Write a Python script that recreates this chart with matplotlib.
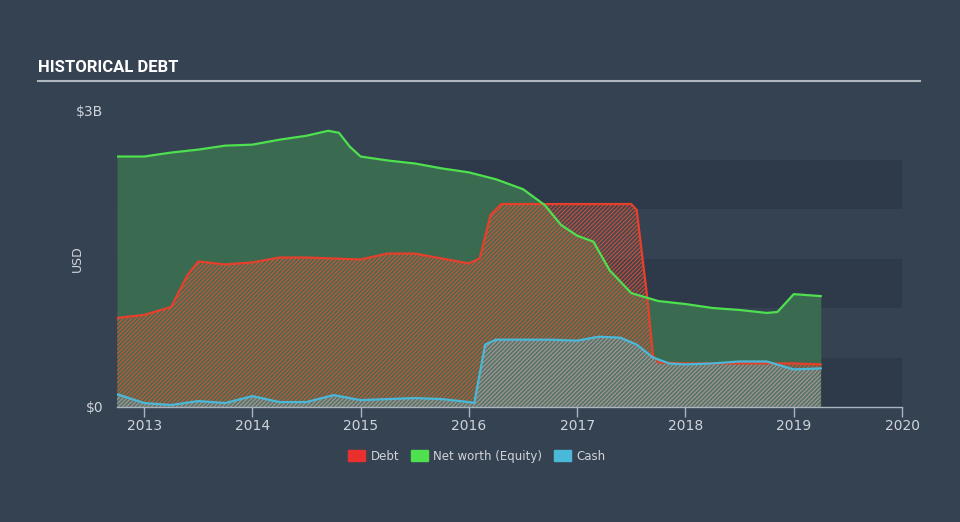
import matplotlib
matplotlib.use("Agg")
import matplotlib.pyplot as plt
from matplotlib.patches import Patch

# values in $B
equity_x = [2012.75, 2013.0, 2013.25, 2013.5, 2013.75, 2014.0, 2014.25, 2014.5, 2014.7, 2014.8,
            2014.9, 2015.0, 2015.25, 2015.5, 2015.75, 2016.0, 2016.25, 2016.5, 2016.7, 2016.85,
            2017.0, 2017.15, 2017.3, 2017.5, 2017.75, 2018.0, 2018.25, 2018.5, 2018.75, 2018.85,
            2019.0, 2019.25]
equity_y = [2.53, 2.53, 2.57, 2.60, 2.64, 2.65, 2.70, 2.74, 2.79, 2.77,
            2.63, 2.53, 2.49, 2.46, 2.41, 2.37, 2.30, 2.20, 2.04, 1.84,
            1.73, 1.67, 1.38, 1.15, 1.07, 1.04, 1.00, 0.98, 0.95, 0.96,
            1.14, 1.12]

debt_x = [2012.75, 2013.0, 2013.25, 2013.4, 2013.5, 2013.75, 2014.0, 2014.25, 2014.5, 2014.75,
          2015.0, 2015.25, 2015.5, 2015.75, 2016.0, 2016.1, 2016.2, 2016.3, 2016.5, 2017.0,
          2017.5, 2017.55, 2017.65, 2017.7, 2017.75, 2018.0, 2019.0, 2019.25]
debt_y = [0.90, 0.93, 1.01, 1.33, 1.47, 1.44, 1.46, 1.51, 1.51, 1.50,
          1.49, 1.55, 1.55, 1.50, 1.45, 1.50, 1.94, 2.05, 2.05, 2.05,
          2.05, 1.99, 1.08, 0.52, 0.45, 0.44, 0.44, 0.43]

cash_x = [2012.75, 2013.0, 2013.25, 2013.5, 2013.75, 2014.0, 2014.25, 2014.5, 2014.75, 2015.0,
          2015.25, 2015.5, 2015.75, 2016.0, 2016.05, 2016.15, 2016.25, 2016.5, 2016.75, 2017.0,
          2017.2, 2017.4, 2017.55, 2017.7, 2017.85, 2018.0, 2018.25, 2018.5, 2018.75, 2019.0,
          2019.25]
cash_y = [0.13, 0.04, 0.02, 0.06, 0.04, 0.11, 0.05, 0.05, 0.12, 0.07,
          0.08, 0.09, 0.08, 0.05, 0.04, 0.63, 0.68, 0.68, 0.68, 0.67,
          0.71, 0.70, 0.63, 0.50, 0.44, 0.43, 0.44, 0.46, 0.46, 0.38,
          0.39]

year_ticks = [2013, 2014, 2015, 2016, 2017, 2018, 2019, 2020]

BG = "#344252"
BAND = "#2e3a4a"
GREEN = "#4fe04f"
RED = "#e8312f"
BLUE = "#4ab8d8"
TEXT = "#d0d4da"

plt.rcParams["hatch.linewidth"] = 0.8

fig = plt.figure(figsize=(9.6, 5.22), dpi=100, facecolor=BG)
ax = fig.add_axes([117 / 960, 1 - 407 / 522, 785 / 960, 297 / 522], facecolor=BG)

for lo in (0.0, 1.0, 2.0):
    ax.axhspan(lo, lo + 0.5, color=BAND, lw=0, zorder=0)

# equity
ax.fill_between(equity_x, 0, equity_y, color="#3a6b50", lw=0, zorder=1)
# debt, hatched
ax.fill_between(debt_x, 0, debt_y, facecolor=(0.60, 0.38, 0.28, 0.2),
                edgecolor=(0.90, 0.33, 0.22, 0.8), hatch="/" * 8, lw=0, zorder=2)
# cash, hatched
ax.fill_between(cash_x, 0, cash_y, facecolor=(0.45, 0.62, 0.68, 0.25),
                edgecolor=(0.55, 0.72, 0.80, 0.6), hatch="/" * 8, lw=0, zorder=3)

ax.plot(debt_x, debt_y, color="#e6402c", lw=1.6, zorder=4)
ax.plot(equity_x, equity_y, color=GREEN, lw=1.6, zorder=5)
ax.plot(cash_x, cash_y, color=BLUE, lw=1.6, zorder=6)

ax.set_xlim(2012.75, 2020)
ax.set_ylim(0, 3)
ax.set_xticks(year_ticks)
ax.set_xticklabels([str(y) for y in year_ticks])
ax.set_yticks([0, 3])
ax.set_yticklabels(["$0", "$3B"])
ax.tick_params(axis="x", colors="#aab4c0", labelcolor=TEXT, labelsize=10, length=7, width=1, pad=2)
ax.tick_params(axis="y", length=0, labelcolor=TEXT, labelsize=10, pad=10)
for side in ("top", "right", "left"):
    ax.spines[side].set_visible(False)
ax.spines["bottom"].set_color("#aab4c0")
ax.spines["bottom"].set_linewidth(1)
ax.set_ylabel("USD", color=TEXT, fontsize=9)
ax.yaxis.set_label_coords(-33 / 785, 0.5)

fig.text(38 / 960, 1 - 68 / 522, "HISTORICAL DEBT", color="white", fontsize=12,
         fontweight="bold", family=["Roboto", "DejaVu Sans"], va="center")
fig.add_artist(plt.Line2D([38 / 960, 920 / 960], [1 - 81 / 522, 1 - 81 / 522],
                          color="#b0b6be", lw=1.5))

handles = [Patch(color=RED, label="Debt"), Patch(color=GREEN, label="Net worth (Equity)"),
           Patch(color=BLUE, label="Cash")]
fig.legend(handles=handles, loc="center", bbox_to_anchor=(477 / 960, 1 - 456 / 522), ncol=3,
           frameon=False, fontsize=8.5, labelcolor=TEXT, handlelength=1.4, handleheight=1.0,
           columnspacing=1.0, handletextpad=0.5)

fig.savefig("out.png", dpi=100, facecolor=BG)
